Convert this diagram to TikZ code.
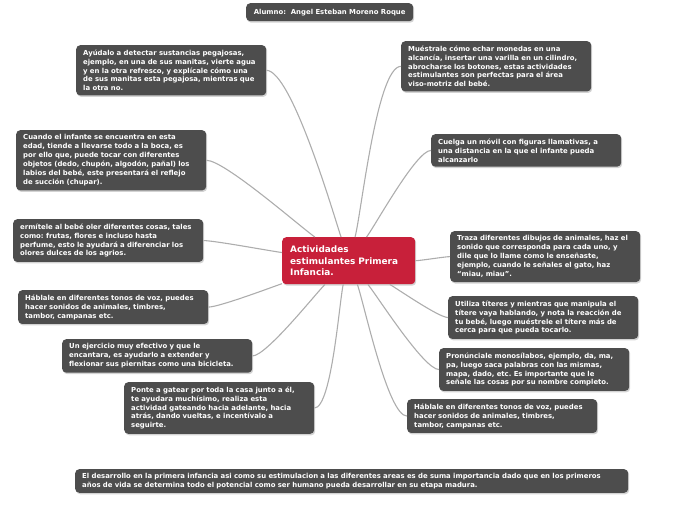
\documentclass[tikz,border=0pt]{standalone}
\usepackage{fontspec}
\setmainfont{DejaVu Sans}
\usetikzlibrary{shadows}
\frenchspacing

\definecolor{boxgray}{HTML}{4D4D4D}
\definecolor{linkgray}{HTML}{ADADAD}
\definecolor{topicred}{HTML}{C8203A}

\tikzset{
  idea/.style={fill=boxgray, rounded corners=4pt, text=white,
    font=\fontsize{6.9}{8.9}\selectfont\bfseries, align=left,
    text width=176pt, inner xsep=7pt, inner ysep=4.5pt, anchor=north west,
    drop shadow={opacity=0.35, shadow xshift=1pt, shadow yshift=-1.5pt}},
  topic/.style={idea, fill=topicred, text width=117pt, inner xsep=8pt,
    minimum height=47pt, font=\fontsize{8.9}{11.8}\selectfont\bfseries},
  link/.style={draw=linkgray, line width=1.1pt, looseness=0.35}
}

\begin{document}
\begin{tikzpicture}[x=1pt,y=1pt]
  \useasboundingbox (0,0) rectangle (696,-520);

  % title and central topic
  \node[idea, text width=, align=center, minimum width=167pt, minimum height=18pt,
    inner ysep=3pt] (alumno) at (246,-3) {Alumno:\ \ Angel Esteban Moreno Roque};
  \node[topic] (centro) at (282,-237) {Actividades\\ estimulantes Primera\\ Infancia.};

  % left ideas
  \node[idea] (tacto) at (76,-45) {Ayúdalo a detectar sustancias pegajosas,\\ ejemplo, en una de sus manitas, vierte agua\\ y en la otra refresco, y explícale cómo una\\ de sus manitas esta pegajosa, mientras que\\ la otra no.};
  \node[idea] (succion) at (16,-130) {Cuando el infante se encuentra en esta\\ edad, tiende a llevarse todo a la boca, es\\ por ello que, puede tocar con diferentes\\ objetos (dedo, chupón, algodón, pañal) los\\ labios del bebé, este presentará el reflejo\\ de succión (chupar).};
  \node[idea] (olfato) at (13,-219) {ermítele al bebé oler diferentes cosas, tales\\ como: frutas, flores e incluso hasta\\ perfume, esto le ayudará a diferenciar los\\ olores dulces de los agrios.};
  \node[idea] (vozizq) at (18,-290) {Háblale en diferentes tonos de voz, puedes\\ hacer sonidos de animales, timbres,\\ tambor, campanas etc.};
  \node[idea] (piernas) at (62,-339) {Un ejercicio muy efectivo y que le\\ encantara, es ayudarlo a extender y\\ flexionar sus piernitas como una bicicleta.};
  \node[idea] (gatear) at (124,-382) {Ponte a gatear por toda la casa junto a él,\\ te ayudara muchísimo, realiza esta\\ actividad gateando hacia adelante, hacia\\ atrás, dando vueltas, e incentívalo a\\ seguirte.};

  % right ideas
  \node[idea] (monedas) at (401,-41) {Muéstrale cómo echar monedas en una\\ alcancía, insertar una varilla en un cilindro,\\ abrocharse los botones, estas actividades\\ estimulantes son perfectas para el área\\ viso-motriz del bebé.};
  \node[idea] (movil) at (431,-134) {Cuelga un móvil con figuras llamativas, a\\ una distancia en la que el infante pueda\\ alcanzarlo};
  \node[idea] (dibujos) at (450,-231) {Traza diferentes dibujos de animales, haz el\\ sonido que corresponda para cada uno, y\\ dile que lo llame como le enseñaste,\\ ejemplo, cuando le señales el gato, haz\\ “miau, miau”.};
  \node[idea] (titeres) at (448,-296) {Utiliza títeres y mientras que manipula el\\ títere vaya hablando, y nota la reacción de\\ tu bebé, luego muéstrele el títere más de\\ cerca para que pueda tocarlo.};
  \node[idea] (silabas) at (439,-348) {Pronúnciale monosílabos, ejemplo, da, ma,\\ pa, luego saca palabras con las mismas,\\ mapa, dado, etc. Es importante que le\\ señale las cosas por su nombre completo.};
  \node[idea] (vozder) at (407,-399) {Háblale en diferentes tonos de voz, puedes\\ hacer sonidos de animales, timbres,\\ tambor, campanas etc.};

  % conclusion
  \node[idea, text width=539pt, inner ysep=4pt] (final) at (75,-469) {El desarrollo en la primera infancia asi como su estimulacion a las diferentes areas es de suma importancia dado que en los primeros\\ años de vida se determina todo el potencial como ser humano pueda desarrollar en su etapa madura.};

  % connectors
  \draw[link] (centro) to[out=108, in=0] (tacto.east);
  \draw[link] (centro) to[out=145, in=0] (succion.east);
  \draw[link] (centro) to[out=173, in=0] (olfato.east);
  \draw[link] (centro) to[out=199, in=0] (vozizq.east);
  \draw[link] (centro) to[out=225, in=0] (piernas.east);
  \draw[link] (centro) to[out=257, in=0] (gatear.east);
  \draw[link] (centro) to[out=75, in=180] (monedas.west);
  \draw[link] (centro) to[out=53, in=180] (movil.west);
  \draw[link] (centro) to[out=0, in=180] (dibujos.west);
  \draw[link] (centro) to[out=-30, in=180] (titeres.west);
  \draw[link] (centro) to[out=-51, in=180] (silabas.west);
  \draw[link] (centro) to[out=-70, in=180] (vozder.west);
\end{tikzpicture}
\end{document}
